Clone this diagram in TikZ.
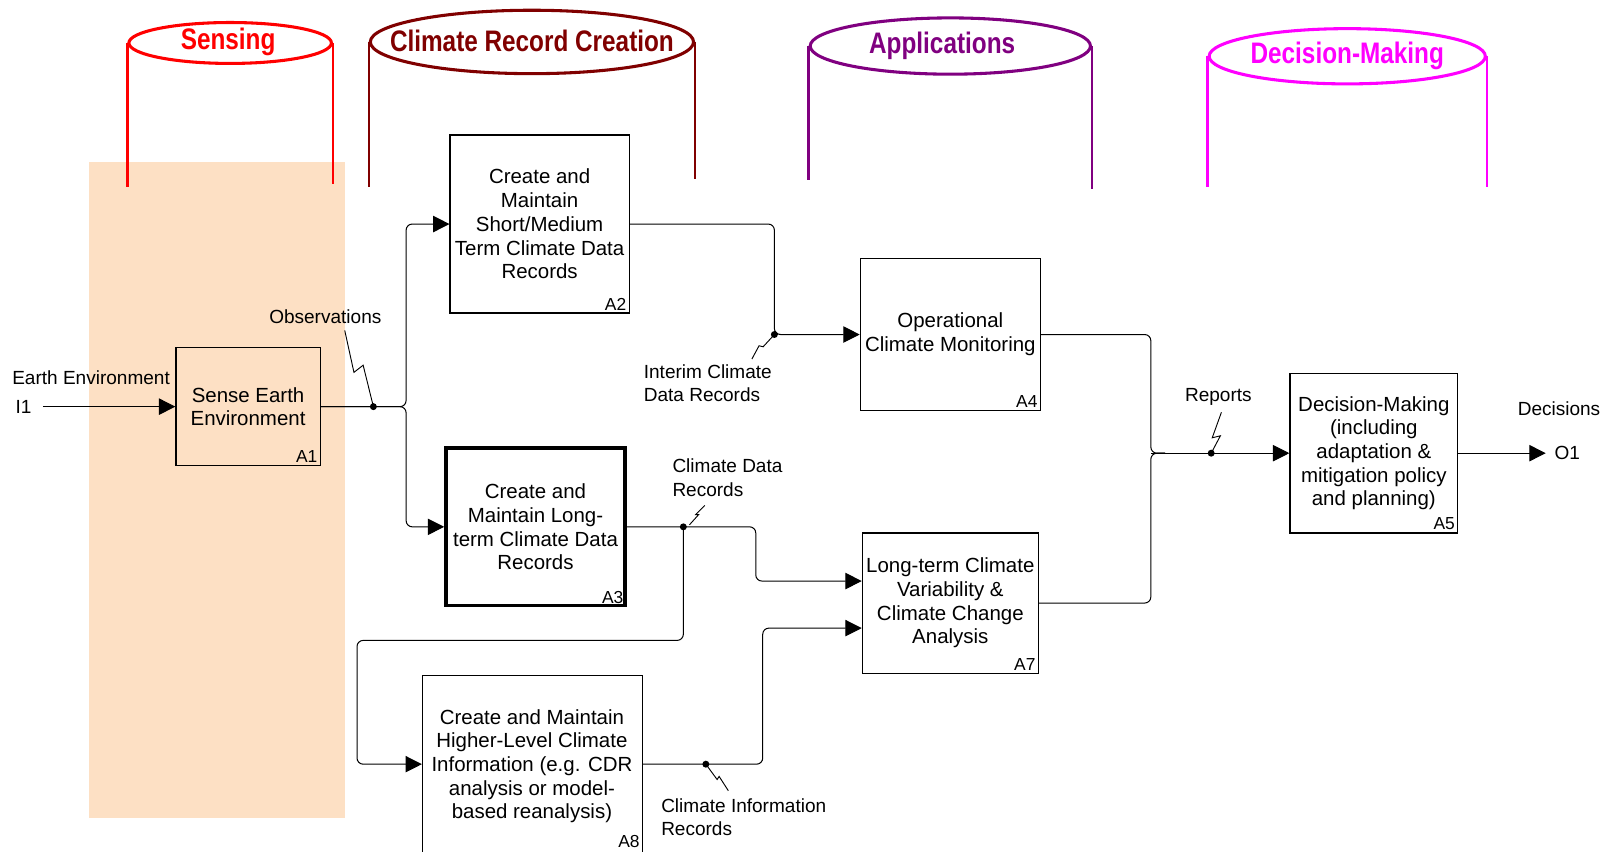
\documentclass[tikz,border=0pt]{standalone}
\usepackage{fontspec}
\setmainfont{Liberation Sans}
\newfontfamily\titlefont[FakeStretch=0.82]{Liberation Sans}
\usetikzlibrary{arrows.meta,shapes.geometric,calc}
\definecolor{peach}{RGB}{253,224,196}
\definecolor{senscol}{RGB}{255,0,0}
\definecolor{crccol}{RGB}{128,0,0}
\definecolor{appcol}{RGB}{128,0,128}
\definecolor{dmcol}{RGB}{255,0,255}
\tikzset{
 procbox/.style={draw, line width=0.6pt, align=center, font=\fontsize{10}{11.6}\selectfont, inner sep=0pt},
 boxtext/.style={align=center, font=\fontsize{10}{11.6}\selectfont, inner sep=0pt},
 thickbox/.style={procbox, line width=1.8pt},
 boxid/.style={font=\fontsize{8.5}{9}\selectfont, anchor=south east, inner sep=1.5pt},
 lbl/.style={font=\fontsize{9.3}{11.3}\selectfont, align=left, inner sep=0pt},
 conn/.style={line width=0.5pt, rounded corners=3pt},
 arr/.style={conn, -{Triangle[length=8pt,width=8pt]}},
 zig/.style={line width=0.45pt},
 jdot/.style={circle, fill, inner sep=0pt, minimum size=3.4pt},
 lanehead/.style={ellipse, line width=1.5pt, inner sep=0pt},
 lanetext/.style={font=\titlefont\bfseries\fontsize{14.5}{16}\selectfont, inner sep=0pt},
 pillar/.style={line width=1.2pt},
}
\begin{document}
\begin{tikzpicture}[x=0.5pt,y=-0.5pt]
\clip (0,0) rectangle (1568,832);
\fill[peach] (87,158) rectangle (337,800);

% lane headers
\node[lanehead, draw=senscol, minimum width=99pt, minimum height=20pt] (S) at (225,42) {};
\node[lanetext, text=senscol] (St) at (223,41) {Sensing};
\draw[pillar, senscol] (S.west) -- ++(0,141);
\draw[pillar, senscol] (S.east) -- ++(0,138);
\node[lanehead, draw=crccol, minimum width=158pt, minimum height=31pt] (C) at (520,41) {};
\node[lanetext, text=crccol] (Ct) at (520,40) {Climate Record Creation};
\draw[pillar, crccol] (C.west) -- ++(0,142);
\draw[pillar, crccol] (C.east) -- ++(0,134);
\node[lanehead, draw=appcol, minimum width=137pt, minimum height=27.5pt] (P) at (929,45) {};
\node[lanetext, text=appcol] (Pt) at (921,45) {Applications};
\draw[pillar, appcol] (P.west) -- ++(0,131);
\draw[pillar, appcol] (P.east) -- ++(0,140);
\node[lanehead, draw=dmcol, minimum width=135pt, minimum height=27pt] (D) at (1317,55) {};
\node[lanetext, text=dmcol] (Dt) at (1317,55) {Decision-Making};
\draw[pillar, dmcol] (D.west) -- ++(0,128);
\draw[pillar, dmcol] (D.east) -- ++(0,128);

% boxes
\node[procbox, minimum width=70.5pt, minimum height=57.5pt] (A1) at (242.5,397.5) {Sense Earth\\Environment};
\node[boxid] at (A1.south east) {A1};
\node[procbox, minimum width=87.5pt, minimum height=87pt] (A2) at (527.5,219) {Create and\\Maintain\\Short/Medium\\Term Climate Data\\Records};
\node[boxid] at (A2.south east) {A2};
\node[thickbox, minimum width=87.5pt, minimum height=77pt] (A3) at (523.5,515) {Create and\\Maintain Long-\\term Climate Data\\Records};
\node[boxid] at (A3.south east) {A3};
\node[procbox, minimum width=88pt, minimum height=74pt] (A4) at (929,327) {Operational\\Climate Monitoring};
\node[boxid] at (A4.south east) {A4};
\node[procbox, minimum width=86pt, minimum height=68.5pt] (A7) at (929,589.5) {Long-term Climate\\Variability \&\\Climate Change\\Analysis};
\node[boxid] at (A7.south east) {A7};
\node[procbox, minimum width=107.5pt, minimum height=95pt] (A8) at (520.5,755) {};
\node[boxtext] (A8t) at (520,749) {Create and Maintain\\Higher-Level Climate\\Information (e.g. CDR\\analysis or model-\\based reanalysis)};
\coordinate (bottomlim) at (0,832);
\node[boxid] at (A8.east |- bottomlim) {A8};
\node[procbox, minimum width=82pt, minimum height=78pt] (A5) at (1343,443) {Decision-Making\\(including\\adaptation \&\\mitigation policy\\and planning)};
\node[boxid] at (A5.south east) {A5};

% input
\node[lbl] (I1) at (23,398) {I1};
\node[lbl] (EE) at (89,369) {Earth Environment};
\coordinate (in1) at (42,397.5);
\draw[arr] (in1) -- (A1.west);

% A1 -> A2, A3
\coordinate (j1) at (397,397.5);
\draw[arr] (A1.east) -- (j1) -- (j1 |- A2.west) -- (A2.west);
\draw[arr] (A1.east) -- (j1) -- (j1 |- A3.west) -- (A3.west);
\node[jdot] (d1) at (365,397.5) {};
\node[lbl] (obs) at (318,310) {Observations};
\coordinate (obsz) at (337,323);
\draw[zig] (d1.center) -- (355,357) -- (346,364) -- (obsz);

% A2 -> A4
\coordinate (j2) at (757,327);
\draw[arr] (A2.east) -- (j2 |- A2.east) -- (j2) -- (A4.west);
\node[jdot] (d2) at (j2) {};
\node[lbl, anchor=west] (icdr) at (629,375) {Interim Climate\\Data Records};
\coordinate (icdrz) at (735,351);
\draw[zig] (d2.center) -- (746,339) -- (742,338) -- (icdrz);

% A3 -> A7, A8
\draw[arr] (A3.east) -- ++(126,0) -- ++(0,53) -- ([yshift=10.75pt]A7.west);
\node[jdot] (d3) at (668,515) {};
\draw[arr] (d3.center) -- ++(0,111) -- ++(-319,0) -- ++(0,121) -- ([yshift=4pt]A8.west);
\node[lbl, anchor=west] (cdr) at (657,467) {Climate Data\\Records};
\coordinate (cdrz) at (689,494);
\draw[zig] (674,513) -- (683,503) -- (680,503) -- (cdrz);

% A8 -> A7
\draw[arr] ([yshift=4pt]A8.east) -- ++(117,0) -- ++(0,-133) -- ([yshift=-12.25pt]A7.west);
\node[jdot] (d8) at (690,747) {};
\node[lbl, anchor=west] (cir) at (646,799) {Climate Information\\Records};
\coordinate (cirz) at (712,773);
\draw[zig] (d8.center) -- (701,762) -- (703,759) -- (cirz);

% A4, A7 -> A5
\coordinate (j4) at (1125,443);
\draw[conn] (A4.east) -- (j4 |- A4.east) -- (j4) -- ++(14,0);
\draw[conn] (A7.east) -- (j4 |- A7.east) -- (j4) -- ++(14,0);
\draw[arr] (j4) -- (A5.west);
\node[jdot] (d5) at (1184,443) {};
\node[lbl] (rep) at (1191,388) {Reports};
\coordinate (repz) at (1194,403);
\draw[zig] (d5.center) -- (1193,426) -- (1185,428) -- (repz);

% output
\coordinate (out1) at (1511,443);
\draw[arr] (A5.east) -- (out1);
\node[lbl] (O1) at (1532,443) {O1};
\node[lbl] (dec) at (1524,400) {Decisions};
\end{tikzpicture}
\end{document}
